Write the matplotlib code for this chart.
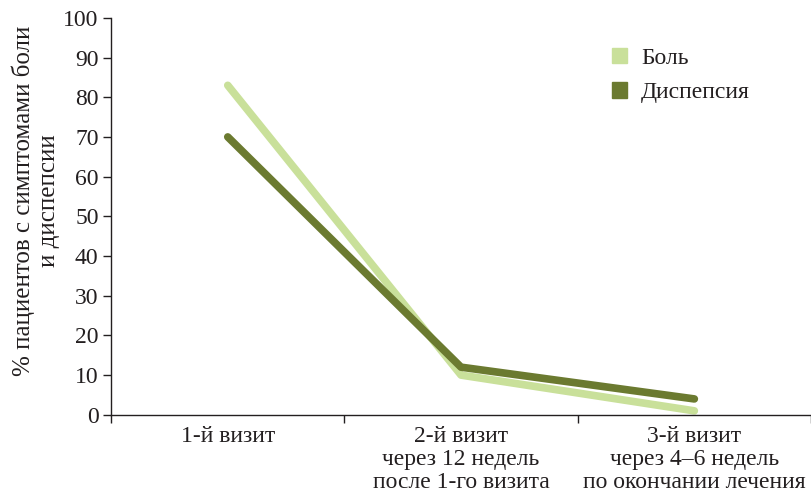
import numpy as np
import matplotlib.pyplot as plt
from matplotlib.patches import Patch

plt.rcParams['font.family'] = ['Liberation Serif', 'DejaVu Serif']

# данные
vizity = ['1-й визит', '2-й визит\nчерез 12 недель\nпосле 1-го визита',
          '3-й визит\nчерез 4–6 недель\nпо окончании лечения']
bol = [83, 10, 1]
dispepsiya = [70, 12, 4]

svetlyi = '#c9e09a'
temnyi = '#6b7a30'
tekst = '#231f20'
fs = 17

fig = plt.figure(figsize=(8.11, 4.95), dpi=100)
ax = fig.add_axes([0.137, 0.162, 0.863, 0.802])

x = np.arange(len(vizity)) + 0.5
ax.plot(x, bol, color=svetlyi, lw=5.5, solid_capstyle='round', solid_joinstyle='round')
ax.plot(x, dispepsiya, color=temnyi, lw=5.5, solid_capstyle='round', solid_joinstyle='round')

ax.set_xlim(0, 3)
ax.set_ylim(0, 100)
ax.set_yticks(np.arange(0, 101, 10))
ax.set_xticks(x)
ax.set_xticklabels(vizity, linespacing=1.12)
ax.set_xticks([0, 1, 2, 3], minor=True)
ax.tick_params(axis='x', which='major', length=0, pad=8, labelsize=fs, labelcolor=tekst)
ax.tick_params(axis='x', which='minor', length=6, color=tekst, width=1)
ax.tick_params(axis='y', length=6, color=tekst, width=1, labelsize=fs, labelcolor=tekst, pad=3)

for s in ['top', 'right']:
    ax.spines[s].set_visible(False)
for s in ['left', 'bottom']:
    ax.spines[s].set_color(tekst)
    ax.spines[s].set_linewidth(1)

ax.set_ylabel('% пациентов с симптомами боли\nи диспепсии', fontsize=18, color=tekst, linespacing=1.2)
ax.yaxis.set_label_coords(-0.073, 0.54)

# квадратные маркеры легенды
leg = ax.legend(handles=[Patch(color=svetlyi, label='Боль'), Patch(color=temnyi, label='Диспепсия')],
                loc='upper left', bbox_to_anchor=(0.715, 0.925), frameon=False, fontsize=fs,
                borderpad=0, borderaxespad=0,
                handlelength=0.65, handleheight=0.65, handletextpad=0.6, labelspacing=0.55)
for t in leg.get_texts():
    t.set_color(tekst)

fig.savefig('out.png', dpi=100)
